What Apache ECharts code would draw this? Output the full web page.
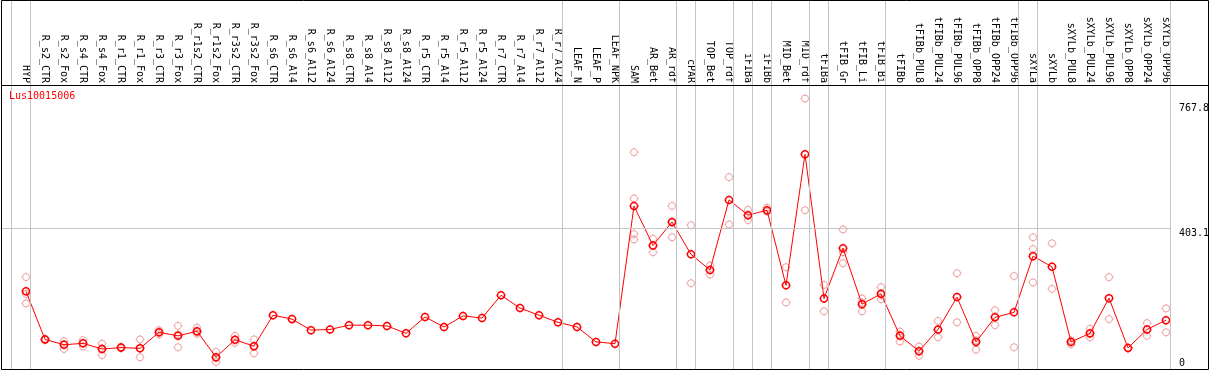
<!DOCTYPE html>
<html>
<head>
<meta charset="utf-8">
<script src="https://cdn.jsdelivr.net/npm/echarts@6/dist/echarts.min.js"></script>
<style>
html,body{margin:0;padding:0;background:#fff;}
#c{width:1209px;height:370px;}
</style>
</head>
<body>
<div id="c"></div>
<script>
const title = 'Lus10015006';
const categories = ['HYP','R_s2_CTR','R_s2_Fox','R_s4_CTR','R_s4_Fox','R_r1_CTR','R_r1_Fox','R_r3_CTR','R_r3_Fox','R_r1s2_CTR','R_r1s2_Fox','R_r3s2_CTR','R_r3s2_Fox','R_s6_CTR','R_s6_Al4','R_s6_Al12','R_s6_Al24','R_s8_CTR','R_s8_Al4','R_s8_Al12','R_s8_Al24','R_r5_CTR','R_r5_Al4','R_r5_Al12','R_r5_Al24','R_r7_CTR','R_r7_Al4','R_r7_Al12','R_r7_Al24','LEAF_N','LEAF_P','LEAF_NPK','SAM','AR_Bet','AR_rdf','cPAR','TOP_Bet','TOP_rdf','iFIBa','iFIBb','MID_Bet','MID_rdf','tFIBa','tFIB_Gr','tFIB_Li','tFIB_Bi','tFIBb','tFIBb_PUL8','tFIBb_PUL24','tFIBb_PUL96','tFIBb_OPP8','tFIBb_OPP24','tFIBb_OPP96','sXYLa','sXYLb','sXYLb_PUL8','sXYLb_PUL24','sXYLb_PUL96','sXYLb_OPP8','sXYLb_OPP24','sXYLb_OPP96'];
const meanValues = [226,91,76,80,64,68,66,111,101,114,41,90,72,159,148,117,119,131,131,129,108,154,126,157,151,215,179,159,139,126,84,79,466,355,421,330,286,483,440,454,243,611,206,347,190,219,101,58,119,210,84,153,167,325,295,84,108,207,67,119,145];
const rep1 = [266,93,86,89,79,70,91,117,129,124,56,101,91,null,null,null,null,null,null,null,null,null,null,null,null,null,null,null,null,null,null,null,617,374,466,412,299,547,455,461,294,767.8,244,400,206,238,113,71,143,277,101,173,269,378,361,77,121,266,68,137,178];
const rep2 = [219,89,64,71,47,66,41,111,69,107,28,81,52,null,null,null,null,null,null,null,null,null,null,null,null,null,null,null,null,null,null,null,487,336,378,249,273,414,426,450,195,454,170,336,170,204,85,45,97,139,62,131,69,345,233,88,97,148,66,101,111];
const rep3 = [192,null,78,80,66,null,66,105,105,111,39,89,73,null,null,null,null,null,null,null,null,null,null,null,null,null,null,null,null,null,null,null,387,355,419,null,286,null,440,451,null,null,null,305,194,216,104,59,118,null,88,155,null,251,null,87,106,null,null,119,null];
const rep4 = [null,null,null,null,null,null,null,null,null,null,null,null,null,null,null,null,null,null,null,null,null,null,null,null,null,null,null,null,null,null,null,null,372,null,null,null,null,null,null,null,null,null,null,null,null,null,null,null,null,null,null,null,null,null,null,null,null,null,null,null,null];
const groupBreaks = [-1,0,28,31,34,35,37,38,39,41,42,45,52,53,60];
const yTickLabels = [0, 403.1, 767.8];
const gridValue = 403.1;

const FONT = 'DejaVu Sans Mono';
const GREY = '#c4c4c4';
const xMin = -25/19, xMax = 1145/19;
const breakOffset = 0.24;
const symbolPath = 'path://M0,-3.5A3.5,3.5,0,1,1,0,3.5A3.5,3.5,0,1,1,0,-3.5ZM0,-4.5L0,-3.5M0,3.5L0,4.5M-4.5,0L-3.5,0M3.5,0L4.5,0';

const repData = [];
[rep1, rep2, rep3, rep4].forEach(arr => arr.forEach((v, i) => { if (v !== null) repData.push([i, v]); }));

const breakLines = groupBreaks.map(k => ({ xAxis: k + breakOffset }));

const chart = echarts.init(document.getElementById('c'), null, { renderer: 'canvas' });
chart.setOption({
  animation: false,
  backgroundColor: '#fff',
  title: { text: title, left: 9, top: 91, padding: 0,
    textStyle: { color: '#ff0000', fontFamily: FONT, fontSize: 10, fontWeight: 'normal' } },
  grid: [
    { left: 1, right: 38, top: 0, height: 85 },
    { left: 1, right: 38, top: 85, bottom: 1 }
  ],
  xAxis: [
    { type: 'value', gridIndex: 0, min: xMin, max: xMax, show: false },
    { type: 'value', gridIndex: 1, min: xMin, max: xMax, position: 'top',
      axisLine: { show: false }, axisTick: { show: false }, splitLine: { show: false },
      axisLabel: { customValues: categories.map((_, i) => i), formatter: v => categories[Math.round(v)],
        rotate: 90, margin: 2, fontFamily: FONT, fontSize: 10, color: '#000' } }
  ],
  yAxis: [
    { type: 'value', gridIndex: 0, min: 0, max: 1, show: false },
    { type: 'value', gridIndex: 1, min: 7.87, max: 805.8, show: false }
  ],
  series: [
    { type: 'scatter', xAxisIndex: 0, yAxisIndex: 0, data: [[0, 0.5]], symbolSize: 0, silent: true,
      markLine: { silent: true, symbol: 'none', label: { show: false },
        lineStyle: { color: GREY, width: 1, type: 'solid' }, data: breakLines } },
    { type: 'line', xAxisIndex: 1, yAxisIndex: 1, data: [], silent: true,
      markLine: { silent: true, symbol: 'none', label: { show: false },
        lineStyle: { color: GREY, width: 1, type: 'solid' },
        data: breakLines.concat([{ yAxis: gridValue }]) } },
    { type: 'scatter', name: 'replicates', xAxisIndex: 1, yAxisIndex: 1, data: repData,
      symbol: symbolPath, symbolSize: 9, symbolKeepAspect: true,
      itemStyle: { color: 'rgba(0,0,0,0)', borderColor: '#f0a0a0', borderWidth: 1, opacity: 1 } },
    { type: 'line', name: 'mean', xAxisIndex: 1, yAxisIndex: 1,
      data: meanValues.map((v, i) => [i, v]),
      symbol: symbolPath, symbolSize: 9, symbolKeepAspect: true, showAllSymbol: true,
      lineStyle: { color: '#ff0000', width: 1 },
      itemStyle: { color: 'rgba(0,0,0,0)', borderColor: '#ff0000', borderWidth: 1.5 } }
  ]
});

const graphics = [
  { type: 'rect', shape: { x: 1.5, y: 0.5, width: 1207, height: 369 }, style: { fill: null, stroke: '#000', lineWidth: 1 }, z: 100, silent: true },
  { type: 'line', shape: { x1: 1, y1: 85.5, x2: 1209, y2: 85.5 }, style: { stroke: '#000', lineWidth: 1 }, z: 100, silent: true }
];
yTickLabels.forEach(v => {
  const py = chart.convertToPixel({ yAxisIndex: 1 }, v);
  const top = Math.min(Math.max(py, 103), 358);
  graphics.push({ type: 'text', left: 1179, top: top, z: 101, silent: true,
    style: { text: String(v), fill: '#000', font: '10px "' + FONT + '"' } });
});
chart.setOption({ graphic: graphics });
</script>
</body>
</html>
